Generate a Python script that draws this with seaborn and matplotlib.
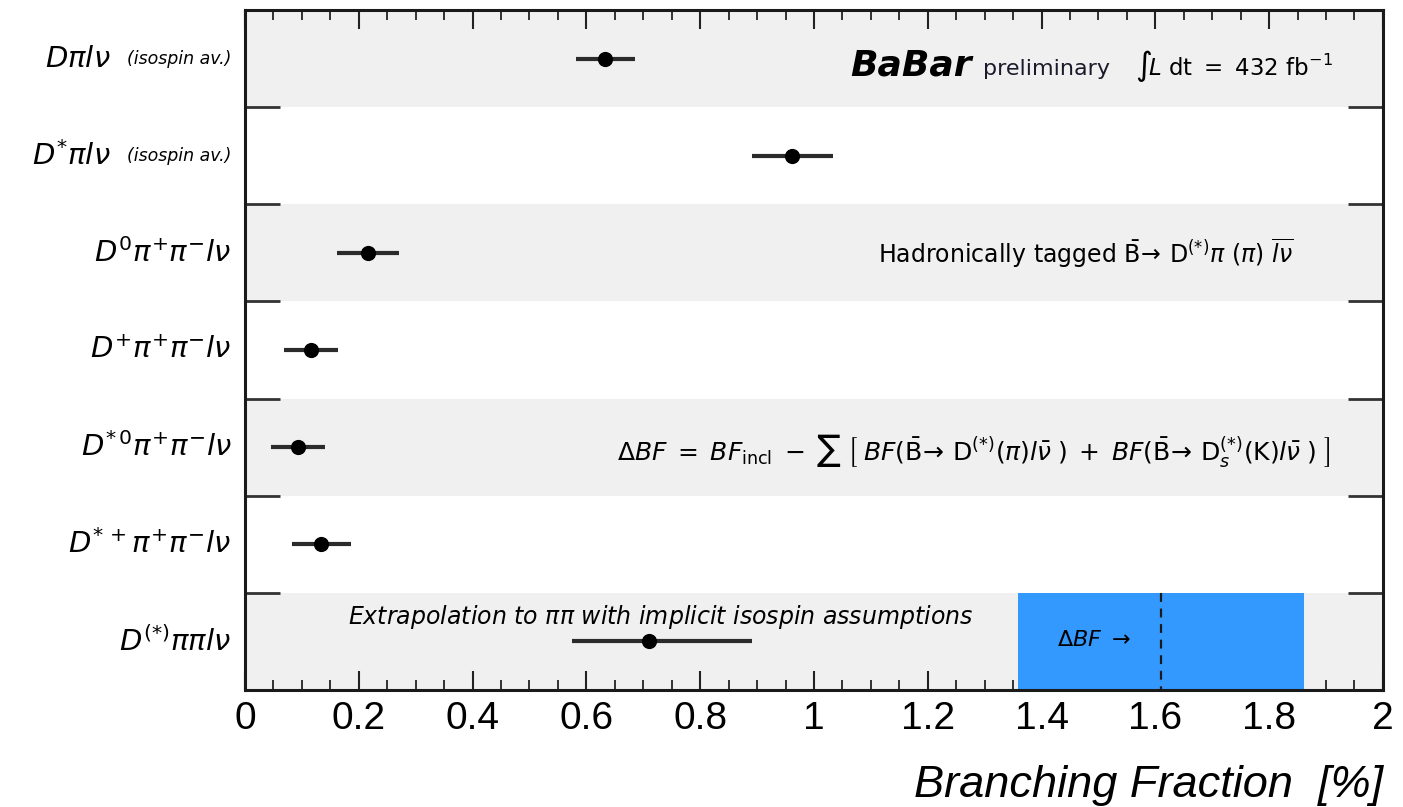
import numpy as np
import pandas as pd
import matplotlib
matplotlib.use("Agg")
import matplotlib.pyplot as plt
import matplotlib.transforms as mtransforms
from matplotlib.ticker import MultipleLocator, FixedLocator, NullFormatter
import seaborn as sns

# Measured branching fractions (in %) with their total uncertainties
channels = [
    r"$D\pi l\nu$",
    r"$D^{*}\pi l\nu$",
    r"$D^{0}\pi^{+}\pi^{-}l\nu$",
    r"$D^{+}\pi^{+}\pi^{-}l\nu$",
    r"$D^{*\,0}\pi^{+}\pi^{-}l\nu$",
    r"$D^{*\,+}\pi^{+}\pi^{-}l\nu$",
    r"$D^{(*)}\pi\pi l\nu$",
]
notes = ["(isospin av.)", "(isospin av.)", "", "", "", "", ""]
bf = [0.633, 0.962, 0.216, 0.116, 0.093, 0.134, 0.710]
bf_err_lo = [0.052, 0.071, 0.054, 0.048, 0.047, 0.052, 0.136]
bf_err_hi = [0.052, 0.071, 0.054, 0.048, 0.047, 0.052, 0.181]

# Gap between inclusive and summed exclusive rates
delta_bf = 1.61
delta_bf_err = 0.251

x_ticks = [0, 0.2, 0.4, 0.6, 0.8, 1, 1.2, 1.4, 1.6, 1.8, 2]
x_tick_labels = ["0", "0.2", "0.4", "0.6", "0.8", "1", "1.2", "1.4", "1.6", "1.8", "2"]

df = pd.DataFrame({"channel": channels, "bf": bf, "lo": bf_err_lo,
                   "hi": bf_err_hi, "row": np.arange(len(channels))})

sns.set_style("white")
plt.rcParams["font.family"] = ["DejaVu Sans"]
plt.rcParams["mathtext.fontset"] = "dejavusans"
plt.rcParams["text.color"] = "black"
plt.rcParams["xtick.color"] = "black"
plt.rcParams["axes.labelcolor"] = "black"

fig = plt.figure(figsize=(14.03, 8.07), dpi=100)
ax = fig.add_axes([0.1746, 0.145, 0.8111, 0.8426])

n = len(channels)
# alternating row shading
for i in range(n):
    if i % 2 == 0:
        ax.axhspan(i - 0.5, i + 0.5, color="#f0f0f0", lw=0, zorder=0)

# Delta BF band in the last row
last = n - 1
ax.fill_betweenx([last - 0.5, last + 0.5], delta_bf - delta_bf_err,
                 delta_bf + delta_bf_err, color="#3399ff", lw=0, zorder=1)
ax.vlines(delta_bf, last - 0.5, last + 0.5, colors="#1a1a1a",
          linestyles=(0, (4, 3)), lw=1.6, zorder=2)

# error bars and central values
ax.errorbar(df["bf"], df["row"], xerr=[df["lo"], df["hi"]], fmt="none",
            ecolor="#2b2b2b", elinewidth=3, capsize=0, zorder=3)
sns.scatterplot(data=df, x="bf", y="row", color="black", s=120,
                edgecolor="black", linewidth=0, zorder=4, ax=ax, legend=False)

ax.set_xlim(0, 2)
ax.set_ylim(n - 0.5, -0.5)

# x axis ticks on both sides, pointing inwards
ax.xaxis.set_major_locator(FixedLocator(x_ticks))
ax.set_xticklabels(x_tick_labels, fontsize=28, family="Liberation Sans")
ax.xaxis.set_minor_locator(MultipleLocator(0.05))
ax.tick_params(axis="x", which="major", direction="in", length=14, width=1.5,
               top=True, bottom=True, pad=8, color="#222222")
ax.tick_params(axis="x", which="minor", direction="in", length=7, width=1.3,
               top=True, bottom=True, color="#222222")

# y ticks mark the row boundaries
ax.yaxis.set_major_locator(FixedLocator(np.arange(0.5, n - 0.5, 1.0)))
ax.yaxis.set_major_formatter(NullFormatter())
ax.tick_params(axis="y", which="major", direction="in", length=25, width=2,
               left=True, right=True, color="#333333")
ax.set_ylabel("")

for side in ["left", "right", "top", "bottom"]:
    ax.spines[side].set_linewidth(2.2)
    ax.spines[side].set_color("#1a1a1a")
    ax.spines[side].set_zorder(5)

# channel labels
blend = mtransforms.blended_transform_factory(ax.transAxes, ax.transData)
for i, (lab, note) in enumerate(zip(channels, notes)):
    if note:
        ax.text(-0.118, i, lab, transform=blend, ha="right", va="center",
                fontsize=21)
        ax.text(-0.012, i, note, transform=blend, ha="right", va="center",
                fontsize=12.5, style="italic")
    else:
        ax.text(-0.012, i, lab, transform=blend, ha="right", va="center",
                fontsize=21)

ax.set_xlabel("Branching Fraction  [%]", loc="right", fontsize=32.5,
              style="italic", family="Liberation Sans", labelpad=20)

# annotations
ax.text(1.063, 0.17, "BaBar", fontsize=26, fontweight="bold", style="italic",
        va="baseline", ha="left")
ax.text(1.297, 0.17, "preliminary", fontsize=16, va="baseline", ha="left",
        color="#1a1a2a")
ax.text(1.564, 0.17, r"$\int\! L\ \mathrm{dt}\ =\ 432\ \mathrm{fb}^{-1}$",
        fontsize=16.5, va="baseline", ha="left")

ax.text(1.112, 2.0,
        r"Hadronically tagged $\bar{\mathrm{B}}\!\rightarrow\,\mathrm{D}^{(*)}\pi\ (\pi)\ \overline{l\nu}$",
        fontsize=17, va="center", ha="left")

ax.text(0.654, 4.03,
        r"$\Delta BF\;=\;BF_{\mathrm{incl}}\;-\;\sum\;\left[\;BF(\bar{\mathrm{B}}\!\rightarrow\,\mathrm{D}^{(*)}(\pi)l\bar{\nu}\;)\;+\;BF(\bar{\mathrm{B}}\!\rightarrow\,\mathrm{D}_{s}^{(*)}(\mathrm{K})l\bar{\nu}\;)\;\right]$",
        fontsize=18, va="center", ha="left")

ax.text(0.181, 5.75,
        r"Extrapolation to $\pi\pi$ with implicit isospin assumptions",
        fontsize=17, style="italic", va="center", ha="left")

ax.text(1.427, 5.99, r"$\Delta BF\ \rightarrow$", fontsize=16,
        va="center", ha="left", zorder=6)

fig.savefig("out.png", dpi=100)
